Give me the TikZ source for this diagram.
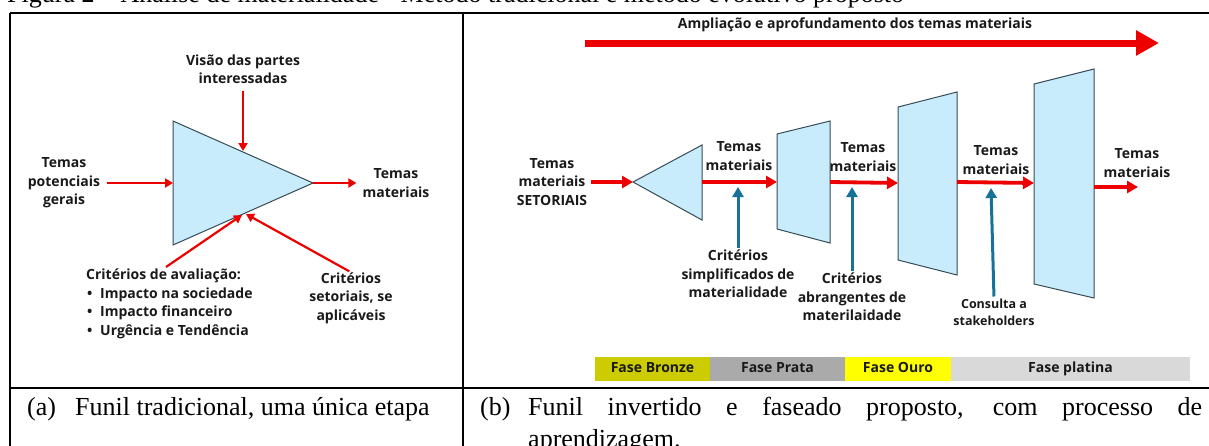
\documentclass[tikz,border=0pt]{standalone}
\usepackage{fontspec}
\setmainfont{Liberation Serif}
\newfontfamily\diagfont{Open Sans}
\usetikzlibrary{arrows.meta, positioning, calc}

\definecolor{arrowred}{RGB}{236,0,0}
\definecolor{funnelblue}{RGB}{200,236,251}
\definecolor{funnelline}{RGB}{55,75,85}
\definecolor{critblue}{RGB}{22,114,152}
\definecolor{bronze}{RGB}{204,204,0}
\definecolor{prata}{RGB}{170,170,170}
\definecolor{ouro}{RGB}{255,255,0}
\definecolor{platina}{RGB}{217,217,217}

\begin{document}
\begin{tikzpicture}[x=1pt, y=-1pt]
    % --- Style Definitions ---
    \tikzset{
        % Table rules
        table line/.style={
            draw=black,
            line width=1.6pt
        },
        % Funnel shapes
        funnel/.style={
            fill=funnelblue,
            draw=funnelline,
            line width=1pt,
            line join=miter
        },
        % Bold sans labels
        label text/.style={
            font=\diagfont\bfseries\fontsize{14}{18.5}\selectfont,
            text=black!90,
            align=center,
            inner sep=0pt
        },
        % Serif caption text
        caption text/.style={
            font=\fontsize{26}{32}\selectfont,
            inner sep=0pt,
            anchor=base west
        },
        % Arrow styling
        red arrow/.style={
            draw=arrowred,
            line width=2.2pt,
            -{Triangle[length=8pt, width=9pt]}
        },
        red arrow big/.style={
            draw=arrowred,
            line width=3.8pt,
            -{Triangle[length=11pt, width=12pt]}
        },
        blue arrow/.style={
            draw=critblue,
            line width=3pt,
            -{Triangle[length=10pt, width=11pt]}
        },
        % Phase bar cells
        phase/.style={
            font=\diagfont\bfseries\fontsize{14}{16}\selectfont,
            text=black!90,
            minimum height=24pt,
            text height=10pt,
            text depth=3pt,
            inner sep=0pt,
            outer sep=0pt
        }
    }

    \useasboundingbox (0,0) rectangle (1209,445);

    % --- 1. Title and Table ---
    \node[caption text] (title) at (7,2) {Figura 2 -- Análise de materialidade - Método tradicional e método evolutivo proposto};
    \draw[table line] (10,13) -- (1215,13);
    \draw[table line] (10,13) -- (10,460);
    \draw[table line] (463,13) -- (463,460);
    \draw[table line] (10,388) -- (1215,388);

    % --- 2. Traditional Funnel (Left) ---
    \coordinate (tri-top) at (173,121);
    \coordinate (tri-bot) at (173,245);
    \coordinate (tri-tip) at (313,183);
    \draw[funnel] (tri-top) -- (tri-tip) -- (tri-bot) -- cycle;

    \coordinate (tri-left) at (173,183);
    \coordinate (tri-upper) at (243,151);
    \coordinate (tri-low1) at (242,215);
    \coordinate (tri-low2) at (246,214);
    \coordinate (aval-start) at (166,267);

    \node[label text] (lbl_vis) at (243,69) {Visão das partes\\interessadas};
    \node[label text] (lbl_pot) at (64,183) {Temas\\potenciais\\gerais};
    \node[label text] (lbl_out) at (396,183) {Temas\\materiais};
    \node[label text, align=left, anchor=north west] (lbl_aval) at (86,269) {Critérios de avaliação:\\
        \hspace*{1pt}\makebox[13pt][l]{\textbullet}Impacto na sociedade\\
        \hspace*{1pt}\makebox[13pt][l]{\textbullet}Impacto financeiro\\
        \hspace*{1pt}\makebox[13pt][l]{\textbullet}Urgência e Tendência};
    \node[label text] (lbl_set) at (351,298) {Critérios\\setoriais, se\\aplicáveis};

    \draw[red arrow, shorten <=7pt] (lbl_vis.south) -- (tri-upper);
    \draw[red arrow, shorten <=7pt] (lbl_pot.east) -- (tri-left);
    \draw[red arrow] (tri-tip) -- ($(lbl_out.west)+(-6,0)$);
    \draw[red arrow] (aval-start) -- (tri-low1);
    \draw[red arrow, shorten <=2pt] (lbl_set.north) -- (tri-low2);

    % --- 3. Proposed Funnel (Right) ---
    % Top arrow
    \node[label text] (lbl_amp) at (855,25) {Ampliação e aprofundamento dos temas materiais};
    \coordinate (amp-start) at (585,43);
    \coordinate (amp-end) at (1159,43);
    \draw[draw=arrowred, line width=7pt, -{Triangle[length=23pt, width=24pt]}] (amp-start) -- (amp-end);

    % Funnel stages
    \draw[funnel] (633,182) coordinate (f1-tip) -- (702,145) -- (702,220) -- cycle;
    \coordinate (f1-out) at (702,182);
    \draw[funnel] (777,134) coordinate (f2-tl) -- (830,121) -- (830,243) -- (777,229) -- cycle;
    \coordinate (f2-in) at (777,182);
    \coordinate (f2-out) at (830,182);
    \draw[funnel] (898,107) -- (957,92) -- (957,275) -- (898,260) -- cycle;
    \coordinate (f3-in) at (898,183);
    \coordinate (f3-out) at (957,182);
    \draw[funnel] (1034,84) -- (1094,69) -- (1094,298) -- (1034,284) -- cycle;
    \coordinate (f4-in) at (1034,183);
    \coordinate (f4-out) at (1094,187);

    % Labels
    \node[label text] (lbl_in) at (552,182) {Temas\\materiais\\SETORIAIS};
    \node[label text] (lbl_t1) at (739,156) {Temas\\materiais};
    \node[label text] (lbl_t2) at (863,157) {Temas\\materiais};
    \node[label text] (lbl_t3) at (996,160) {Temas\\materiais};
    \node[label text] (lbl_t4) at (1137,163) {Temas\\materiais};
    \node[label text] (lbl_c1) at (738,274) {Critérios\\simplificados de\\materialidade};
    \node[label text] (lbl_c2) at (852,297) {Critérios\\abrangentes de\\materilaidade};
    \node[label text, font=\diagfont\bfseries\fontsize{12.5}{17}\selectfont] (lbl_c3) at (994,312) {Consulta a\\stakeholders};

    % Flow arrows
    \draw[red arrow big, shorten <=4pt] (lbl_in.east) -- (f1-tip);
    \draw[red arrow big] (f1-out) -- (f2-in);
    \draw[red arrow big] (f2-out) -- (f3-in);
    \draw[red arrow big] (f3-out) -- (f4-in);
    \draw[red arrow big] (f4-out) -- ++(44,0) coordinate (t4-end);

    % Criteria arrows
    \coordinate (c1-end) at (738,187);
    \coordinate (c2-end) at (852,187);
    \coordinate (c3-end) at (991,188);
    \draw[blue arrow, shorten <=2pt] (lbl_c1.north) -- (c1-end);
    \draw[blue arrow, shorten <=2pt] (lbl_c2.north) -- (c2-end);
    \draw[blue arrow, shorten <=2pt] (lbl_c3.north) -- (c3-end);

    % --- 4. Phase Bar ---
    \node[phase, fill=bronze, minimum width=115pt, anchor=west] (ph_bronze) at (595,369) {Fase Bronze};
    \node[phase, fill=prata, minimum width=135pt, right=0pt of ph_bronze] (ph_prata) {Fase Prata};
    \node[phase, fill=ouro, minimum width=106pt, right=0pt of ph_prata] (ph_ouro) {Fase Ouro};
    \node[phase, fill=platina, minimum width=239pt, right=0pt of ph_ouro] (ph_platina) {Fase platina};

    % --- 5. Captions ---
    \node[caption text] (cap_a) at (27,415) {(a)};
    \node[caption text] (cap_a_txt) at (75,415) {Funil tradicional, uma única etapa};
    \node[caption text] (cap_b) at (480,415) {(b)};
    \node[caption text, text width=674pt, align=justify] (cap_b_txt) at (528,415) {\hyphenpenalty=10000 Funil invertido e faseado proposto, com processo de\linebreak aprendizagem.};

\end{tikzpicture}
\end{document}
